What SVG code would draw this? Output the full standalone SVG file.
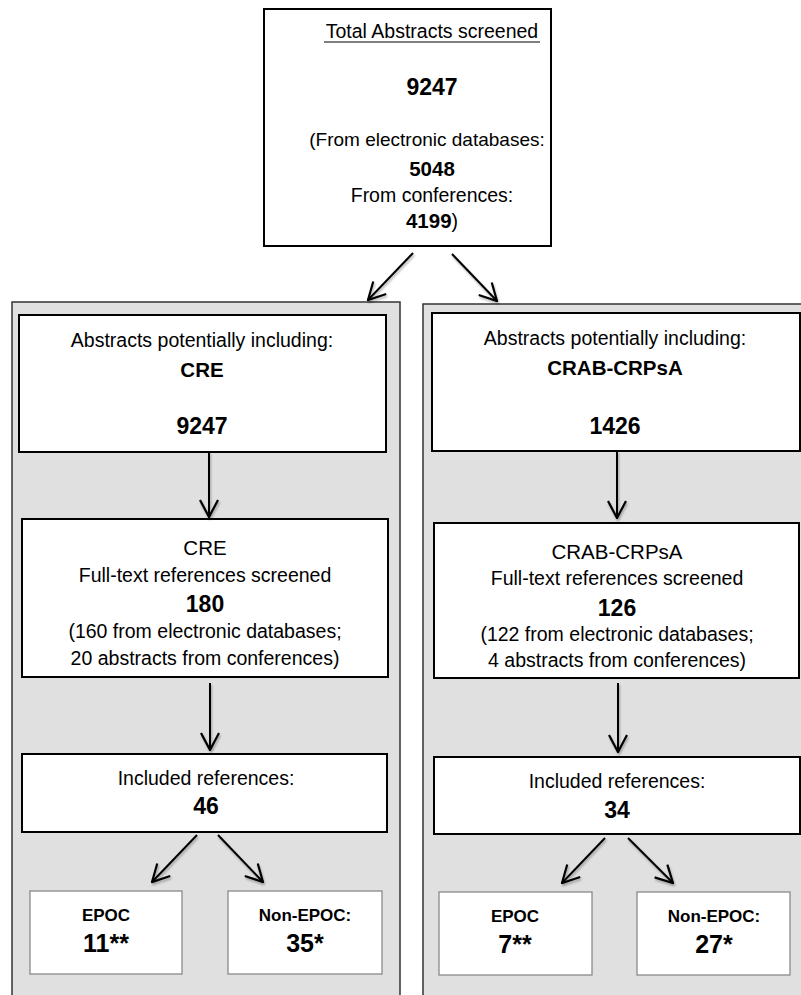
<svg xmlns="http://www.w3.org/2000/svg" width="801" height="995" viewBox="0 0 801 995">
<style>
text{font-family:"Liberation Sans",Arial,sans-serif;fill:#000;text-anchor:middle}
.t{font-size:19.5px}
.tl{font-size:20.5px}
.b{font-size:23px;font-weight:bold}
.bw{font-size:20.5px;font-weight:bold}
.bm{font-size:20.5px;font-weight:bold}
.bs{font-size:17px;font-weight:bold}
.bl{font-size:25px;font-weight:bold}
.box{fill:#fff;stroke:#000;stroke-width:2}
.sbox{fill:#fff;stroke:#8a8a8a;stroke-width:1.3}
.panel{fill:#e0e0e0;stroke:#333;stroke-width:1.5}
.arr{stroke:#000;stroke-width:2;fill:none;marker-end:url(#ah)}
</style>
<defs>
<marker id="ah" markerUnits="userSpaceOnUse" viewBox="0 0 20 20" refX="19" refY="10" markerWidth="20" markerHeight="20" orient="auto">
<path d="M2,1 L19,10 L2,19" fill="none" stroke="#000" stroke-width="2.2"/>
</marker>
<filter id="sh" x="-20%" y="-20%" width="140%" height="140%">
<feDropShadow dx="1" dy="2" stdDeviation="1.2" flood-color="#000" flood-opacity="0.3"/>
</filter>
</defs>
<rect width="801" height="995" fill="#fff"/>

<g id="panel-left"><rect class="panel" x="12" y="302" width="388" height="700"/></g>
<g id="panel-right"><rect class="panel" x="423" y="304" width="390" height="700"/></g>

<g id="total">
<rect class="box" x="264" y="9" width="287" height="237"/>
<text class="t" x="432" y="38">Total Abstracts screened</text>
<line x1="324" y1="42" x2="540" y2="42" stroke="#000" stroke-width="1.2"/>
<text class="b" x="432" y="95">9247</text>
<text x="427" y="146" style="font-size:19px">(From electronic databases:</text>
<text class="bm" x="432" y="176">5048</text>
<text class="t" x="432" y="202">From conferences:</text>
<text x="432" y="228" style="font-size:19.5px"><tspan font-weight="bold" font-size="20.5px">4199</tspan>)</text>
</g>

<g id="cre-abstracts">
<rect class="box" x="19" y="315" width="367" height="137"/>
<text class="t" x="202" y="347">Abstracts potentially including:</text>
<text class="bw" x="202" y="377">CRE</text>
<text class="b" x="202" y="434">9247</text>
</g>

<g id="cre-fulltext">
<rect class="box" x="22" y="519" width="366" height="158"/>
<text class="tl" x="205" y="555">CRE</text>
<text class="t" x="205" y="582">Full-text references screened</text>
<text class="b" x="205" y="612">180</text>
<text class="t" x="205" y="638">(160 from electronic databases;</text>
<text class="t" x="205" y="665">20 abstracts from conferences)</text>
</g>

<g id="cre-included">
<rect class="box" x="22" y="754" width="365" height="78"/>
<text class="t" x="206" y="785">Included references:</text>
<text class="b" x="206" y="814">46</text>
</g>

<g id="cre-epoc">
<rect class="sbox" x="30" y="891" width="152" height="83"/>
<text class="bs" x="106" y="921">EPOC</text>
<text class="bl" x="106" y="952">11**</text>
</g>

<g id="cre-nonepoc">
<rect class="sbox" x="228" y="891" width="154" height="83"/>
<text class="bs" x="305" y="921">Non-EPOC:</text>
<text class="bl" x="305" y="952">35*</text>
</g>

<g id="crab-abstracts">
<rect class="box" x="432" y="313" width="368" height="138"/>
<text class="t" x="615" y="345">Abstracts potentially including:</text>
<text class="bw" x="615" y="375">CRAB-CRPsA</text>
<text class="b" x="615" y="434">1426</text>
</g>

<g id="crab-fulltext">
<rect class="box" x="434" y="523" width="365" height="155"/>
<text class="tl" x="617" y="559">CRAB-CRPsA</text>
<text class="t" x="617" y="585">Full-text references screened</text>
<text class="b" x="617" y="616">126</text>
<text class="t" x="617" y="641">(122 from electronic databases;</text>
<text class="t" x="617" y="667">4 abstracts from conferences)</text>
</g>

<g id="crab-included">
<rect class="box" x="434" y="757" width="366" height="77"/>
<text class="t" x="617" y="788">Included references:</text>
<text class="b" x="617" y="818">34</text>
</g>

<g id="crab-epoc">
<rect class="sbox" x="439" y="892" width="153" height="83"/>
<text class="bs" x="515" y="922">EPOC</text>
<text class="bl" x="515" y="953">7**</text>
</g>

<g id="crab-nonepoc">
<rect class="sbox" x="637" y="892" width="153" height="83"/>
<text class="bs" x="714" y="922">Non-EPOC:</text>
<text class="bl" x="714" y="953">27*</text>
</g>

<g id="connectors" filter="url(#sh)">
<line class="arr" x1="413" y1="253" x2="368" y2="300"/>
<line class="arr" x1="452" y1="254" x2="497" y2="301"/>
<line class="arr" x1="209" y1="452" x2="209" y2="517"/>
<line class="arr" x1="210" y1="683" x2="210" y2="750"/>
<line class="arr" x1="197" y1="835" x2="152" y2="882"/>
<line class="arr" x1="218" y1="835" x2="263" y2="882"/>
<line class="arr" x1="617" y1="451" x2="617" y2="518"/>
<line class="arr" x1="618" y1="683" x2="618" y2="752"/>
<line class="arr" x1="605" y1="838" x2="562" y2="883"/>
<line class="arr" x1="628" y1="838" x2="673" y2="883"/>
</g>
</svg>
